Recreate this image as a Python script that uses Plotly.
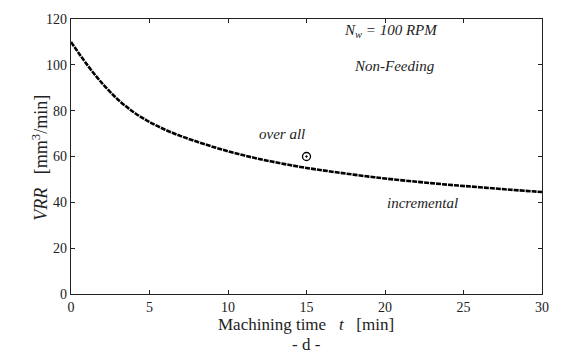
import plotly.graph_objects as go

t_vals = [0, 1, 2, 3, 4, 5, 6, 7, 8, 9, 10, 11, 12, 13, 14, 15, 16, 17, 18, 19, 20, 22, 24, 26, 28, 30]
vrr_incremental = [110, 100.3, 91.8, 84.8, 79.3, 75.1, 71.7, 68.9, 66.5, 64.3, 62.3, 60.5, 58.9,
                   57.5, 56.2, 55.0, 54.0, 53.0, 52.1, 51.2, 50.4, 49.0, 47.7, 46.6, 45.5, 44.5]
t_overall = [15]
vrr_overall = [60]

FONT = "Liberation Serif"

fig = go.Figure()
fig.add_trace(go.Scatter(x=t_vals, y=vrr_incremental, mode="lines",
                         line=dict(color="black", width=2.6, dash="5px,1px", shape="spline", smoothing=1.0),
                         showlegend=False))
fig.add_trace(go.Scatter(x=t_overall, y=vrr_overall, mode="markers",
                         marker=dict(symbol="circle-open-dot", size=8, color="black",
                                     line=dict(width=1.3, color="black")),
                         showlegend=False))

axis_common = dict(showline=True, linecolor="#222", linewidth=1.3, mirror="ticks",
                   ticks="inside", ticklen=4, tickwidth=1, tickcolor="#222",
                   showgrid=False, zeroline=False,
                   tickfont=dict(family=FONT, size=14, color="#222"))

fig.update_xaxes(range=[0, 30], tickvals=[0, 5, 10, 15, 20, 25, 30], **axis_common)
fig.update_yaxes(range=[0, 120], tickvals=[0, 20, 40, 60, 80, 100, 120], **axis_common)

W, H = 561, 363
L, R, T, B = 71, 17, 15, 69

def px(xp):
    return (xp - L) / (W - L - R)

def py(yp):
    return (H - B - yp) / (H - T - B)

itxt = dict(family=FONT, size=15, color="#222")
anns = [
    dict(x=20.4, y=114.8, xref="x", yref="y",
         text="<i>N</i><sub><i>w</i></sub><i> = 100 RPM</i>",
         showarrow=False, font=itxt),
    dict(x=17.9, y=99.4, xref="x", yref="y", text="<i>Non-Feeding</i>", xanchor="left",
         showarrow=False, font=itxt),
    dict(x=13.45, y=69.8, xref="x", yref="y", text="<i>over all</i>",
         showarrow=False, font=itxt),
    dict(x=22.4, y=39.7, xref="x", yref="y", text="<i>incremental</i>",
         showarrow=False, font=itxt),
    dict(x=px(307), y=py(337), xref="paper", yref="paper",
         text="Machining time   <i>t</i>   [min]", showarrow=False,
         font=dict(family=FONT, size=17, color="#222")),
    dict(x=px(307), y=py(357), xref="paper", yref="paper",
         text="- d -", showarrow=False,
         font=dict(family=FONT, size=17, color="#222")),
    dict(x=px(27), y=py(156), xref="paper", yref="paper", textangle=-90,
         text="<i>VRR</i>   [mm<sup>3</sup>/min]", showarrow=False,
         font=dict(family=FONT, size=18, color="#222")),
]

fig.update_layout(width=W, height=H, margin=dict(l=L, r=R, t=T, b=B),
                  paper_bgcolor="white", plot_bgcolor="white",
                  annotations=anns, showlegend=False)

fig.write_html("out.html")
